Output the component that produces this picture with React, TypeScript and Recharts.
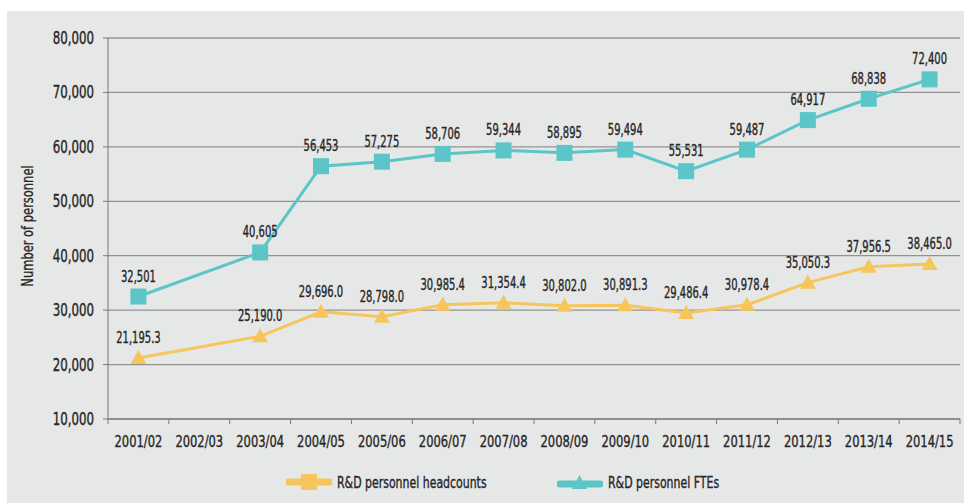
import { LineChart, Line, XAxis, YAxis, CartesianGrid, LabelList } from "recharts";

const years = [
  "2001/02", "2002/03", "2003/04", "2004/05", "2005/06", "2006/07", "2007/08",
  "2008/09", "2009/10", "2010/11", "2011/12", "2012/13", "2013/14", "2014/15",
];

// teal squares
const headcounts: (number | null)[] = [
  32501, null, 40605, 56453, 57275, 58706, 59344, 58895, 59494, 55531, 59487, 64917, 68838, 72400,
];

// yellow triangles
const ftes: (number | null)[] = [
  21195.3, null, 25190.0, 29696.0, 28798.0, 30985.4, 31354.4, 30802.0, 30891.3, 29486.4, 30978.4,
  35050.3, 37956.5, 38465.0,
];

const yTicks = [10000, 20000, 30000, 40000, 50000, 60000, 70000, 80000];

const TEAL = "#5bc5c8";
const YELLOW = "#f6c65c";
const TEXT = "#262626";
const FONT = "'DejaVu Sans Condensed', 'DejaVu Sans', sans-serif";
const PLOT_W = 852;

const chartData = years.map((y, i) => ({ year: y, headcounts: headcounts[i], ftes: ftes[i] }));

const fmtInt = (v: number) => v.toLocaleString("en-US", { maximumFractionDigits: 0 });
const fmt1 = (v: number) =>
  v.toLocaleString("en-US", { minimumFractionDigits: 1, maximumFractionDigits: 1 });

// narrow text, squeezed horizontally to look like the condensed face of the original
function NarrowText({ x, y, size, anchor, sx, children }: any) {
  return (
    <text
      transform={`translate(${x},${y}) scale(${sx},1)`}
      textAnchor={anchor}
      fill={TEXT}
      stroke={TEXT}
      strokeWidth={0.35}
      fontSize={size}
      fontFamily={FONT}
    >
      {children}
    </text>
  );
}

function SquareDot(props: any) {
  const { cx, cy, value } = props;
  if (value == null || cx == null || cy == null) return null;
  return <rect x={cx - 8} y={cy - 8} width={16} height={16} fill={TEAL} />;
}

function TriangleDot(props: any) {
  const { cx, cy, value } = props;
  if (value == null || cx == null || cy == null) return null;
  return <polygon points={`${cx},${cy - 8} ${cx + 8},${cy + 6} ${cx - 8},${cy + 6}`} fill={YELLOW} />;
}

function makeLabel(fmt: (v: number) => string) {
  return function PointLabel(props: any) {
    const { x, y, width, value } = props;
    if (value == null) return null;
    const cx = x + (width ?? 0) / 2;
    return (
      <NarrowText x={cx} y={y - 15} size={15} anchor="middle" sx={0.74}>
        {fmt(value)}
      </NarrowText>
    );
  };
}

function XTick(props: any) {
  const { x, y, payload, index } = props;
  const bw = PLOT_W / years.length;
  return (
    <g>
      <line x1={x - bw / 2} y1={y} x2={x - bw / 2} y2={y + 5} stroke="#777" />
      {index === years.length - 1 && (
        <line x1={x + bw / 2} y1={y} x2={x + bw / 2} y2={y + 5} stroke="#777" />
      )}
      <NarrowText x={x} y={y + 28} size={16} anchor="middle" sx={0.8}>
        {payload.value}
      </NarrowText>
    </g>
  );
}

function YTick(props: any) {
  const { x, y, payload } = props;
  return (
    <NarrowText x={x} y={y + 6} size={17} anchor="end" sx={0.77}>
      {fmtInt(payload.value)}
    </NarrowText>
  );
}

const legendText = {
  display: "inline-block",
  transform: "scaleX(0.76)",
  transformOrigin: "left center",
  whiteSpace: "nowrap" as const,
  WebkitTextStroke: "0.35px #262626",
};

function ChartLegend() {
  return (
    <div style={{ position: "absolute", left: 0, top: 472, width: 964, height: 22, fontFamily: FONT, fontSize: 16, color: TEXT }}>
      <div style={{ position: "absolute", left: 286, top: 0, display: "flex", alignItems: "center" }}>
        <svg width={46} height={20}>
          <line x1={3} y1={10} x2={43} y2={10} stroke={YELLOW} strokeWidth={7} strokeLinecap="round" />
          <rect x={15} y={2} width={16} height={16} fill={YELLOW} />
        </svg>
        <span style={{ ...legendText, marginLeft: 5 }}>R&amp;D personnel headcounts</span>
      </div>
      <div style={{ position: "absolute", left: 557, top: 0, display: "flex", alignItems: "center" }}>
        <svg width={46} height={20}>
          <line x1={3} y1={12} x2={43} y2={12} stroke={TEAL} strokeWidth={7} strokeLinecap="round" />
          <polygon points="22.5,3 30,17 15,17" fill={TEAL} />
        </svg>
        <span style={{ ...legendText, marginLeft: 5 }}>R&amp;D personnel FTEs</span>
      </div>
    </div>
  );
}

export default function App() {
  return (
    <div style={{ position: "absolute", left: 0, top: 0, width: 964, height: 503, background: "#fff" }}>
      <div style={{ position: "absolute", left: 7, top: 11, width: 957, height: 492, background: "#e6e7e7" }} />
      <div
        style={{
          position: "absolute",
          left: 28,
          top: 226,
          transform: "translate(-50%, -50%) rotate(-90deg)",
          whiteSpace: "nowrap",
          fontFamily: FONT,
          fontSize: 15,
          color: TEXT,
        }}
      >
        <span style={{ display: "inline-block", transform: "scaleX(0.85)", WebkitTextStroke: "0.3px #262626" }}>
          Number of personnel
        </span>
      </div>
      <LineChart
        width={964}
        height={503}
        data={chartData}
        margin={{ top: 38, right: 4, bottom: 0, left: 0 }}
        style={{ position: "absolute", left: 0, top: 0 }}
      >
        <CartesianGrid vertical={false} stroke="#939393" strokeWidth={1.3} />
        <XAxis
          dataKey="year"
          scale="band"
          stroke="#777"
          tickLine={false}
          tickSize={0}
          tickMargin={0}
          tick={<XTick />}
          interval={0}
          height={84}
        />
        <YAxis
          domain={[10000, 80000]}
          ticks={yTicks}
          width={108}
          stroke="#777"
          tickSize={5}
          tickMargin={9}
          tick={<YTick />}
        />
        <Line
          dataKey="headcounts"
          stroke={TEAL}
          strokeWidth={3}
          connectNulls
          dot={<SquareDot />}
          activeDot={false}
          isAnimationActive={false}
        >
          <LabelList dataKey="headcounts" content={makeLabel(fmtInt)} />
        </Line>
        <Line
          dataKey="ftes"
          stroke={YELLOW}
          strokeWidth={3}
          connectNulls
          dot={<TriangleDot />}
          activeDot={false}
          isAnimationActive={false}
        >
          <LabelList dataKey="ftes" content={makeLabel(fmt1)} />
        </Line>
      </LineChart>
      <ChartLegend />
    </div>
  );
}
